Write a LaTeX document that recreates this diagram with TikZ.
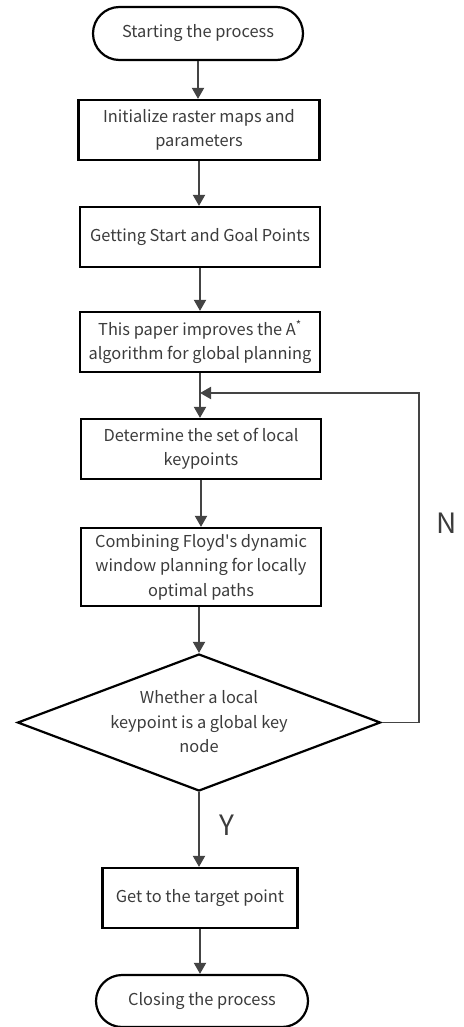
\documentclass[tikz,border=0pt]{standalone}
\usepackage{fontspec}
\setmainfont{Noto Sans CJK SC}
\newfontfamily\aposfont{Noto Sans CJK SC}[Ligatures=TeXOff]
\usetikzlibrary{shapes.geometric,shapes.misc,arrows.meta}
\definecolor{txt}{HTML}{3C3C3C}
\definecolor{arr}{HTML}{444444}
\begin{document}
\begin{tikzpicture}[x=1pt,y=1pt,
  every node/.style={font=\fontsize{16.4}{24.5}\selectfont, text=txt, align=center},
  procbox/.style={draw=black, line width=2.2pt, rectangle, inner sep=0pt},
  termbox/.style={draw=black, line width=2.2pt, rounded rectangle, inner sep=0pt},
  decbox/.style={draw=black, line width=2.2pt, diamond, inner sep=0pt},
  flow/.style={draw=arr, line width=1.9pt, -{Triangle[length=11pt,width=12pt]}},
  lbl/.style={font=\fontsize{28}{30}\selectfont, text=txt}
]
\useasboundingbox (0,0) rectangle (463,-1027);
\node[termbox, minimum width=210, minimum height=53] (start) at (198,-33.5) {Starting the process};
\node[procbox, minimum width=241, minimum height=60] (init) at (199,-130) {Initialize raster maps and\\parameters};
\node[procbox, minimum width=240, minimum height=60] (get) at (200,-237) {Getting Start and Goal Points};
\node[procbox, minimum width=240, minimum height=60] (paper) at (200,-342) {This paper improves the A\textsuperscript{*}\\algorithm for global planning};
\node[procbox, minimum width=240, minimum height=60] (det) at (201,-449) {Determine the set of local\\keypoints};
\node[procbox, minimum width=240, minimum height=78] (comb) at (201,-567) {Combining Floyd{\aposfont '}s dynamic\\window planning for locally\\optimal paths};
\node[decbox, minimum width=363, minimum height=137, aspect=2.65] (dia) at (199,-722.5) {};
\node (diatext) at (199,-722) {Whether a local\\keypoint is a global key\\node};
\node[procbox, minimum width=195, minimum height=60] (target) at (200,-898) {Get to the target point};
\node[termbox, minimum width=212, minimum height=52] (close) at (202,-1001) {Closing the process};
\coordinate (join) at (200,-393);
\coordinate (loopR) at (419,-722.5);
\draw[flow] (start) -- (start |- init.north);
\draw[flow] (init) -- (init |- get.north);
\draw[flow] (get) -- (get |- paper.north);
\draw[flow] (paper) -- (paper |- det.north);
\draw[flow] (det) -- (det |- comb.north);
\draw[flow] (comb.south -| dia.north) -- (dia.north);
\draw[flow] (dia.south) -- (dia.south |- target.north);
\draw[flow] (target) -- (target |- close.north);
\draw[flow] (dia.east) -- (loopR) |- (join);
\node[lbl] (N) at (447,-523) {N};
\node[lbl] (Y) at (227,-825) {Y};
\end{tikzpicture}
\end{document}
